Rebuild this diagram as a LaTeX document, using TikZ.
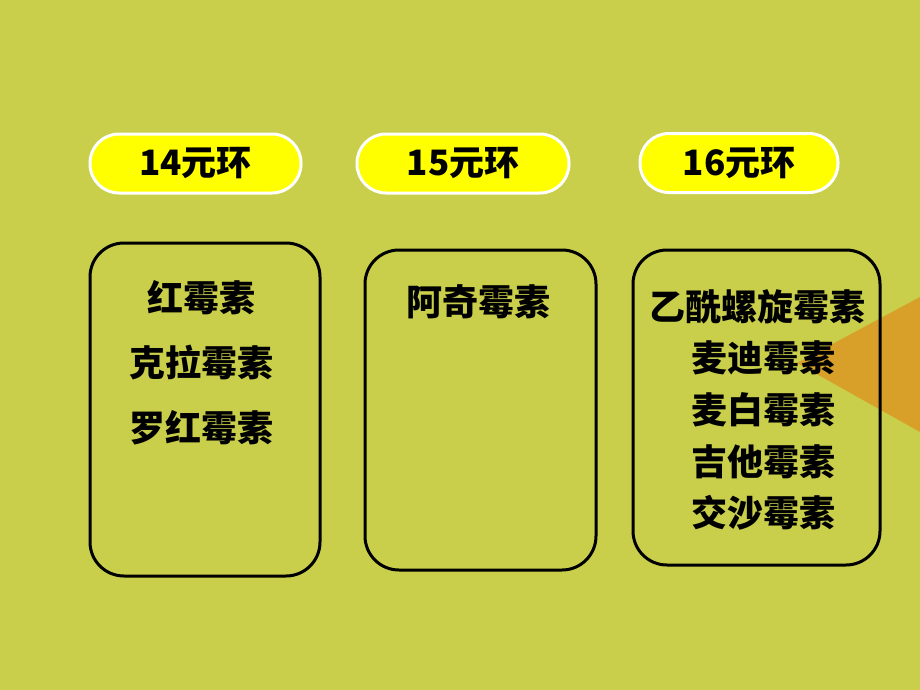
\documentclass[tikz,border=0pt]{standalone}
\usepackage{fontspec}
\newfontfamily\cjk{Noto Sans CJK SC}
\definecolor{bg}{RGB}{201,207,74}
\definecolor{pill}{RGB}{255,255,0}
\definecolor{tri}{RGB}{216,160,40}
\begin{document}
\begin{tikzpicture}[x=1pt,y=-1pt,
  pillbox/.style={draw=white,line width=3pt,fill=pill,rounded corners=29pt,
    minimum height=59pt,inner sep=0pt,font=\cjk\bfseries\fontsize{35}{40}\selectfont},
  listbox/.style={draw=black,line width=3pt,rounded corners=34pt,inner sep=0pt},
  item/.style={font=\cjk\bfseries\fontsize{36}{42}\selectfont,inner sep=0pt,anchor=center}]
\fill[bg] (0,0) rectangle (920,690);
\useasboundingbox (0,0) rectangle (920,690);
\fill[tri] (797,363) -- (920,297) -- (920,432) -- cycle;
% pills
\node[pillbox,minimum width=211pt] (p1) at (195.5,163.5) {14元环};
\node[pillbox,minimum width=212pt] (p2) at (463,163.5) {15元环};
\node[pillbox,minimum width=198pt] (p3) at (739,163) {16元环};
% boxes
\node[listbox,minimum width=230pt,minimum height=333pt] (b1) at (205,409.5) {};
\node[listbox,minimum width=231pt,minimum height=320pt] (b2) at (480.5,410) {};
\node[listbox,minimum width=247pt,minimum height=315pt] (b3) at (756.5,407.5) {};
% items
\node[item] (i11) at (201,298) {红霉素};
\node[item] (i12) at (201,363) {克拉霉素};
\node[item] (i13) at (201,428) {罗红霉素};
\node[item] (i21) at (478,302) {阿奇霉素};
\node[item] (i31) at (757,307) {乙酰螺旋霉素};
\node[item] (i32) at (763,358) {麦迪霉素};
\node[item] (i33) at (763,410) {麦白霉素};
\node[item] (i34) at (763,462) {吉他霉素};
\node[item] (i35) at (763,513) {交沙霉素};
\end{tikzpicture}
\end{document}
